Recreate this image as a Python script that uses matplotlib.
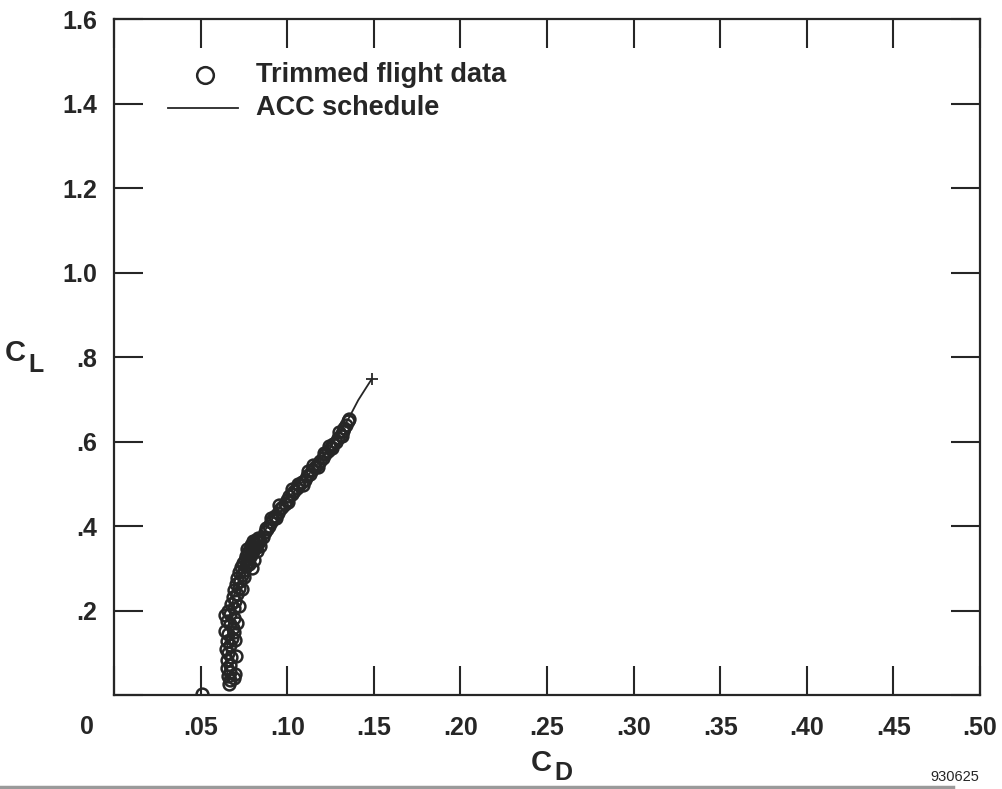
#!/usr/bin/env python3
"""Lift vs drag: trimmed flight data against the ACC schedule."""
import matplotlib
matplotlib.use("Agg")
import matplotlib.pyplot as plt
from matplotlib.lines import Line2D

# trimmed flight data (C_D, C_L)
flight_cd = [0.0505,
             0.0665, 0.0670, 0.0660, 0.0672, 0.0655, 0.0668, 0.0650, 0.0675, 0.0658, 0.0645,
             0.0670, 0.0652, 0.0680, 0.0660, 0.0640, 0.0685, 0.0668, 0.0650, 0.0690, 0.0672,
             0.0660, 0.0695, 0.0678, 0.0700, 0.0685, 0.0710, 0.0692, 0.0720, 0.0702, 0.0728,
             0.0712,
             0.0700, 0.0705, 0.0698, 0.0712, 0.0722, 0.0738, 0.0750, 0.0690, 0.0695, 0.0640,
             0.0738, 0.0722, 0.0750, 0.0735, 0.0762, 0.0745, 0.0772, 0.0755, 0.0782, 0.0768,
             0.0790, 0.0775, 0.0800, 0.0785, 0.0812, 0.0798, 0.0822, 0.0808, 0.0835, 0.0818,
             0.0845,
             0.0795, 0.0810, 0.0826, 0.0762, 0.0790, 0.0840, 0.0770, 0.0805, 0.0830, 0.0780,
             0.0858, 0.0870, 0.0882, 0.0895, 0.0905, 0.0918, 0.0930, 0.0945, 0.0958, 0.0970,
             0.0985, 0.0998, 0.1012, 0.1028, 0.1040, 0.1055, 0.1070, 0.1085, 0.1100, 0.1115,
             0.1130, 0.1145, 0.1160, 0.1175, 0.1190, 0.1205, 0.1220, 0.1235, 0.1250, 0.1265,
             0.1280, 0.1295, 0.1308, 0.1320, 0.1330, 0.1340, 0.1350, 0.1355,
             0.0935, 0.1005, 0.1090, 0.1180, 0.1260, 0.1318,
             0.0875, 0.0905, 0.0950, 0.1030, 0.1060, 0.1120, 0.1150, 0.1210, 0.1240, 0.1300]
flight_cl = [0.003,
             0.025, 0.035, 0.045, 0.055, 0.065, 0.072, 0.082, 0.090, 0.100, 0.110,
             0.118, 0.128, 0.135, 0.145, 0.152, 0.158, 0.168, 0.176, 0.182, 0.192,
             0.200, 0.206, 0.215, 0.222, 0.232, 0.240, 0.248, 0.254, 0.262, 0.270,
             0.278,
             0.050, 0.092, 0.130, 0.170, 0.210, 0.250, 0.280, 0.040, 0.150, 0.190,
             0.285, 0.292, 0.296, 0.302, 0.305, 0.312, 0.315, 0.320, 0.322, 0.328,
             0.332, 0.338, 0.340, 0.345, 0.348, 0.352, 0.356, 0.360, 0.362, 0.366,
             0.368,
             0.300, 0.320, 0.340, 0.330, 0.356, 0.352, 0.345, 0.365, 0.372, 0.310,
             0.375, 0.385, 0.392, 0.400, 0.410, 0.416, 0.424, 0.432, 0.440, 0.446,
             0.452, 0.462, 0.470, 0.476, 0.484, 0.490, 0.498, 0.504, 0.510, 0.518,
             0.524, 0.532, 0.540, 0.546, 0.554, 0.562, 0.570, 0.578, 0.586, 0.594,
             0.600, 0.608, 0.616, 0.624, 0.632, 0.640, 0.648, 0.654,
             0.418, 0.456, 0.496, 0.540, 0.584, 0.612,
             0.396, 0.420, 0.450, 0.488, 0.500, 0.530, 0.544, 0.574, 0.590, 0.622]

# ACC schedule
acc_cd = [0.0655, 0.0650, 0.0665, 0.0700, 0.0760, 0.0840, 0.0960, 0.1100, 0.1240,
          0.1355, 0.1410, 0.1455, 0.1488]
acc_cl = [0.030, 0.100, 0.180, 0.250, 0.310, 0.370, 0.445, 0.510, 0.580,
          0.655, 0.698, 0.727, 0.748]

xticks = [0, .05, .10, .15, .20, .25, .30, .35, .40, .45, .50]
xlabels = ["", ".05", ".10", ".15", ".20", ".25", ".30", ".35", ".40", ".45", ".50"]
yticks = [0, .2, .4, .6, .8, 1.0, 1.2, 1.4, 1.6]
ylabels = ["", ".2", ".4", ".6", ".8", "1.0", "1.2", "1.4", "1.6"]

plt.rcParams["font.family"] = ["Liberation Sans", "DejaVu Sans"]
ink = "#262626"

fig = plt.figure(figsize=(10.03, 7.89), dpi=100)
ax = fig.add_axes([0.1137, 0.1191, 0.8634, 0.8568])

ax.plot(acc_cd, acc_cl, color=ink, lw=1.3, zorder=2)
ax.plot(acc_cd[-1], acc_cl[-1], marker="+", ms=9, mew=1.3, color=ink, zorder=2)
ax.plot(flight_cd, flight_cl, ls="none", marker="o", ms=8.5, mfc="none",
        mec=ink, mew=1.8, zorder=3)

ax.set_xlim(0, 0.5)
ax.set_ylim(0, 1.6)
ax.set_xticks(xticks)
ax.set_xticklabels(xlabels, fontsize=18, fontweight="bold", color=ink)
ax.set_yticks(yticks)
ax.set_yticklabels(ylabels, fontsize=18, fontweight="bold", color=ink)
ax.tick_params(direction="in", length=21, width=1.5, top=True, right=True,
               color=ink, pad=12)
ax.tick_params(axis="x", pad=15)
for s in ax.spines.values():
    s.set_linewidth(1.6)
    s.set_color(ink)

# legend
ax.plot([0.105], [0.917], transform=ax.transAxes, marker="o", ms=12, mfc="none",
        mec=ink, mew=1.8, ls="none")
ax.text(0.164, 0.917, "Trimmed flight data", transform=ax.transAxes, fontsize=19.5,
        fontweight="bold", color=ink, va="center")
ax.plot([0.062, 0.143], [0.868, 0.868], transform=ax.transAxes, color=ink, lw=1.3)
ax.text(0.164, 0.868, "ACC schedule", transform=ax.transAxes, fontsize=19.5,
        fontweight="bold", color=ink, va="center")

# axis labels and corner text
fig.text(87 / 1003, 1 - 727 / 789, "0", fontsize=18, fontweight="bold",
         color=ink, ha="center", va="center")
fig.text(15 / 1003, 1 - 353 / 789, "C", fontsize=21, fontweight="bold", color=ink,
         ha="center", va="center")
fig.text(36 / 1003, 1 - 365 / 789, "L", fontsize=18, fontweight="bold", color=ink,
         ha="center", va="center")
fig.text(541 / 1003, 1 - 763 / 789, "C", fontsize=21, fontweight="bold", color=ink,
         ha="center", va="center")
fig.text(563 / 1003, 1 - 773 / 789, "D", fontsize=18, fontweight="bold", color=ink,
         ha="center", va="center")
fig.text(955 / 1003, 1 - 777 / 789, "930625", fontsize=10.5, color=ink,
         ha="center", va="center")
fig.add_artist(Line2D([0, 0.95], [0.002, 0.002], transform=fig.transFigure,
                      color="#9a9a9a", lw=2.5))

fig.savefig("out.png", dpi=100, facecolor="white")
